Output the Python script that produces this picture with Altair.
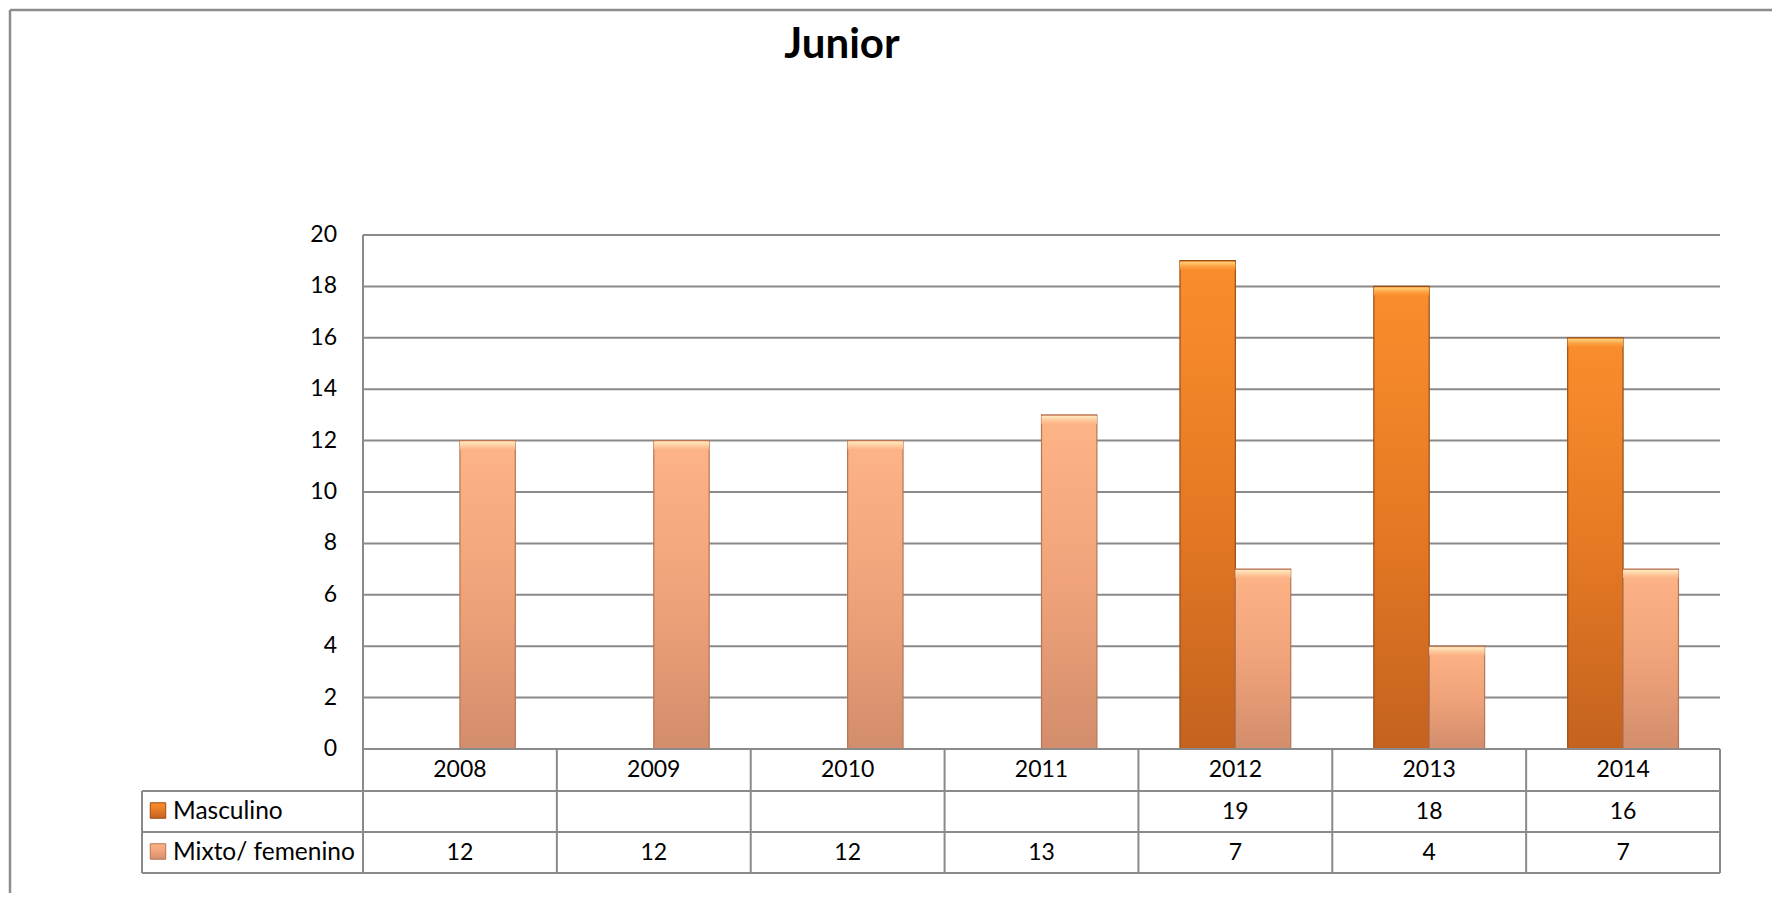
import altair as alt
import pandas as pd

# ---------------- data ----------------
years = ["2008", "2009", "2010", "2011", "2012", "2013", "2014"]
masculino = [None, None, None, None, 19, 18, 16]
mixto = [12, 12, 12, 13, 7, 4, 7]
series = ["Masculino", "Mixto/ femenino"]
y_ticks = [0, 2, 4, 6, 8, 10, 12, 14, 16, 18, 20]
title_text = "Junior"

# ---------------- layout (pixels, relative to plot origin) ----------------
W, H = 1578, 638          # whole inner area: legend column + plot + table
X0 = 221                  # left edge of plot / table value columns
ZERO = 514                # pixel of value 0 (= top of table)
ROW1, ROW2, ROW3 = 556, 597, 638
GRID = "#8a8a8a"
FONT = "Lato"
FS = 23

rows = []
for yr, m, f in zip(years, masculino, mixto):
    if m is not None:
        rows.append({"year": yr, "series": series[0], "value": m})
    if f is not None:
        rows.append({"year": yr, "series": series[1], "value": f})
bars_df = pd.DataFrame(rows)

table_df = pd.DataFrame({
    "year": years,
    "m": ["" if v is None else str(v) for v in masculino],
    "f": ["" if v is None else str(v) for v in mixto],
})

xscale = alt.Scale(domain=years, range=[X0, W], paddingInner=0, paddingOuter=0)
yscale = alt.Scale(domain=[0, 20], range=[ZERO, 0], nice=False, zero=False)
offscale = alt.Scale(domain=series, paddingInner=0, paddingOuter=0.75)


def grad(stops):
    return alt.Gradient(
        gradient="linear",
        stops=[alt.GradientStop(color=c, offset=o) for c, o in stops],
        x1=0, x2=0, y1=0, y2=1,
    )


masc_fill = grad([("#FA8E2D", 0), ("#E67A24", 0.5), ("#C4621F", 1)])
mix_fill = grad([("#FDB486", 0), ("#F0A37A", 0.5), ("#D28D6C", 1)])
masc_top = grad([("#FFD27A", 0), ("#FBA040", 0.6), ("#FA8E2D", 1)])
mix_top = grad([("#FFEBC0", 0), ("#FEC699", 0.6), ("#FDB486", 1)])

one = pd.DataFrame({"k": [0]})


def rule(x, x2, y, y2, color=GRID, width=2):
    return alt.Chart(one).mark_rule(color=color, strokeWidth=width).encode(
        x=alt.value(x), x2=alt.value(x2), y=alt.value(y), y2=alt.value(y2)
    )


# gridlines
grid_df = pd.DataFrame({"v": y_ticks[1:]})
grid = alt.Chart(grid_df).mark_rule(color=GRID, strokeWidth=2).encode(
    y=alt.Y("v:Q", scale=yscale, axis=None),
    x=alt.value(X0), x2=alt.value(W),
)

# y tick labels
tick_df = pd.DataFrame({"v": y_ticks, "lab": [str(t) for t in y_ticks]})
ticks = alt.Chart(tick_df).mark_text(
    align="right", baseline="middle", font=FONT, fontSize=FS, color="#000000"
).encode(
    y=alt.Y("v:Q", scale=yscale, axis=None),
    x=alt.value(X0 - 26),
    text="lab:N",
)


def bar_layer(name, fill, top, stroke):
    base = alt.Chart(bars_df).transform_filter(alt.datum.series == name)
    body = base.mark_bar(fill=fill, stroke=stroke, strokeWidth=1.2).encode(
        x=alt.X("year:N", scale=xscale, axis=None),
        xOffset=alt.XOffset("series:N", scale=offscale),
        y=alt.Y("value:Q", scale=yscale, axis=None),
    )
    cap = base.mark_bar(fill=top, strokeWidth=0, yOffset=1, y2Offset=9).encode(
        x=alt.X("year:N", scale=xscale, axis=None),
        xOffset=alt.XOffset("series:N", scale=offscale),
        y=alt.Y("value:Q", scale=yscale, axis=None),
        y2=alt.Y2("value:Q"),
    )
    return body + cap


bars_m = bar_layer(series[0], masc_fill, masc_top, "#9A4C16")
bars_f = bar_layer(series[1], mix_fill, mix_top, "#B57556")

# table column separators
col_rules = alt.Chart(table_df).mark_rule(color=GRID, strokeWidth=2).encode(
    x=alt.X("year:N", scale=xscale, axis=None, bandPosition=1),
    y=alt.value(ZERO), y2=alt.value(ROW3),
)

# table texts
txt = dict(align="center", baseline="middle", font=FONT, fontSize=FS, color="#000000")
head_txt = alt.Chart(table_df).mark_text(**txt).encode(
    x=alt.X("year:N", scale=xscale, axis=None), y=alt.value((ZERO + ROW1) / 2), text="year:N"
)
m_txt = alt.Chart(table_df).mark_text(**txt).encode(
    x=alt.X("year:N", scale=xscale, axis=None), y=alt.value((ROW1 + ROW2) / 2), text="m:N"
)
f_txt = alt.Chart(table_df).mark_text(**txt).encode(
    x=alt.X("year:N", scale=xscale, axis=None), y=alt.value((ROW2 + ROW3) / 2), text="f:N"
)

# row labels with legend keys
lab_style = dict(align="left", baseline="middle", font=FONT, fontSize=24.5, color="#000000")
lab_m = alt.Chart(pd.DataFrame({"s": [series[0]]})).mark_text(**lab_style).encode(
    x=alt.value(31), y=alt.value((ROW1 + ROW2) / 2), text="s:N")
lab_f = alt.Chart(pd.DataFrame({"s": [series[1]]})).mark_text(**lab_style).encode(
    x=alt.value(31), y=alt.value((ROW2 + ROW3) / 2), text="s:N")
key_m = alt.Chart(pd.DataFrame({"s": [series[0]]})).mark_square(
    size=240, fill=masc_fill, stroke="#9A4C16", strokeWidth=1, opacity=1
).encode(x=alt.value(16), y=alt.value((ROW1 + ROW2) / 2 - 1))
key_f = alt.Chart(pd.DataFrame({"s": [series[1]]})).mark_square(
    size=240, fill=mix_fill, stroke="#B57556", strokeWidth=1, opacity=1
).encode(x=alt.value(16), y=alt.value((ROW2 + ROW3) / 2 - 1))

# title
title = alt.Chart(pd.DataFrame({"t": [title_text]})).mark_text(
    align="center", baseline="alphabetic", font=FONT, fontSize=42, fontWeight="bold", color="#000000"
).encode(x=alt.value(700), y=alt.value(-177), text="t:N")

structure = [
    rule(X0, X0, 0, ROW3),            # plot left edge / table divider
    rule(X0, W, ZERO, ZERO),          # zero line / table top
    rule(0, W, ROW1, ROW1),
    rule(0, W, ROW2, ROW2),
    rule(0, W, ROW3, ROW3),
    rule(0, 0, ROW1, ROW3),           # legend column left edge
    rule(-132, -132, -225, 700, "#8c8c8c", 2.5),   # outer frame left
    rule(-132, 1700, -225, -225, "#8c8c8c", 2.5),  # outer frame top
]

chart = alt.layer(
    grid, bars_m, bars_f, col_rules, *structure,
    ticks, head_txt, m_txt, f_txt, lab_m, lab_f, key_m, key_f, title,
).properties(
    width=W, height=H,
    autosize=alt.AutoSizeParams(type="none"),
    padding={"left": 134, "top": 227, "right": 52, "bottom": 20},
    background="#ffffff",
).configure_view(stroke=None)

chart.save("out.html", embed_options={"renderer": "svg", "actions": False})
